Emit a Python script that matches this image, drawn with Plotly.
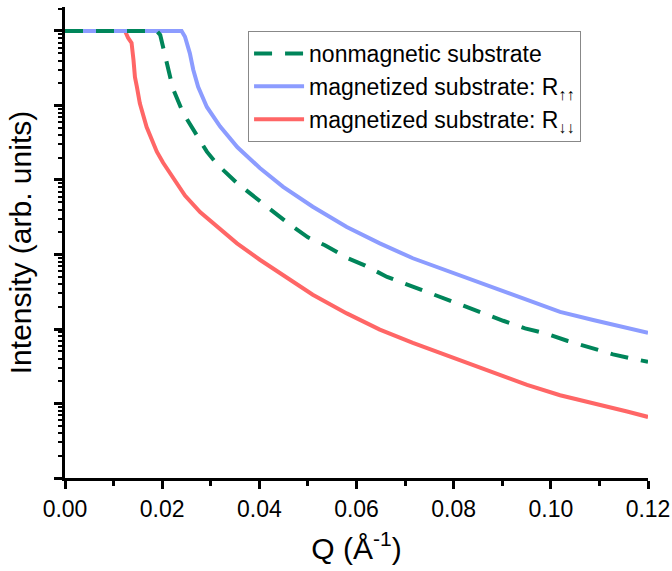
import plotly.graph_objects as go

# Q values (Å^-1) and intensities
q_nonmag = [0.0, 0.0189, 0.0196, 0.0200, 0.0212, 0.0222, 0.0243, 0.0261, 0.0292, 0.0315,
            0.0354, 0.0385, 0.0428, 0.0459, 0.0500, 0.0535, 0.0582, 0.0618, 0.0663, 0.0735,
            0.0778, 0.0817, 0.0865, 0.0902, 0.0947, 0.0990, 0.1035, 0.1077, 0.1128, 0.1169, 0.1200]
r_nonmag = [1.0, 1.0, 0.883, 0.692, 0.302, 0.170, 0.0794, 0.0501, 0.0240, 0.0158,
            9.1e-3, 6.3e-3, 3.72e-3, 2.63e-3, 1.70e-3, 1.33e-3, 8.9e-4, 7.1e-4, 5.0e-4, 3.31e-4,
            2.63e-4, 2.04e-4, 1.55e-4, 1.29e-4, 1.02e-4, 8.7e-5, 6.9e-5, 5.75e-5, 4.57e-5, 3.98e-5, 3.63e-5]

q_up = [0.0, 0.0240, 0.0247, 0.0254, 0.0257, 0.0264, 0.0274, 0.0292, 0.0319, 0.0355,
        0.0401, 0.0449, 0.0510, 0.0580, 0.0648, 0.0716, 0.0813, 0.0881, 0.0951, 0.1019,
        0.1087, 0.1157, 0.1200]
r_up = [1.0, 1.0, 0.838, 0.617, 0.501, 0.302, 0.178, 0.0955, 0.0525, 0.0275,
        0.0145, 8.1e-3, 4.37e-3, 2.34e-3, 1.41e-3, 8.9e-4, 5.25e-4, 3.55e-4, 2.45e-4, 1.70e-4,
        1.32e-4, 1.02e-4, 8.9e-5]

q_down = [0.0, 0.01235, 0.0130, 0.0137, 0.0141, 0.0144, 0.0148, 0.0154, 0.0168, 0.0178, 0.0189,
          0.0202, 0.0216, 0.0247, 0.0278, 0.0313, 0.0354, 0.0401, 0.0449, 0.0510, 0.0580, 0.0648,
          0.0716, 0.0813, 0.0881, 0.0951, 0.1019, 0.1087, 0.1157, 0.1200]
r_down = [1.0, 1.0, 0.805, 0.692, 0.407, 0.240, 0.178, 0.107, 0.0513, 0.0350, 0.0240,
          0.0170, 0.0123, 6.17e-3, 3.72e-3, 2.34e-3, 1.41e-3, 8.5e-4, 5.25e-4, 2.88e-4, 1.62e-4, 9.8e-5,
          6.5e-5, 3.8e-5, 2.57e-5, 1.78e-5, 1.29e-5, 1.02e-5, 7.8e-6, 6.6e-6]

names = ["nonmagnetic substrate",
         "magnetized substrate: R<sub>↑↑</sub>",
         "magnetized substrate: R<sub>↓↓</sub>"]
colors = ["#00855A", "#8C9CFF", "#FF6666"]

FONT = "Arial, Liberation Sans, sans-serif"

fig = go.Figure()
fig.add_trace(go.Scatter(x=q_down, y=r_down, mode="lines", name=names[2], legendrank=3,
                         line=dict(color=colors[2], width=4)))
fig.add_trace(go.Scatter(x=q_up, y=r_up, mode="lines", name=names[1], legendrank=2,
                         line=dict(color=colors[1], width=4)))
fig.add_trace(go.Scatter(x=q_nonmag, y=r_nonmag, mode="lines", name=names[0], legendrank=1,
                         line=dict(color=colors[0], width=4, dash="18px,13px")))

fig.update_layout(
    width=672, height=571,
    margin=dict(l=65, r=24, t=7, b=93),
    paper_bgcolor="white", plot_bgcolor="white",
    font=dict(family=FONT, color="black", size=23),
    legend=dict(x=0.314, y=0.949, xanchor="left", yanchor="top",
                bordercolor="#888888", borderwidth=1, bgcolor="white",
                font=dict(size=23, family=FONT),
                traceorder="normal", itemwidth=50),
    showlegend=True,
)
fig.update_xaxes(
    range=[0, 0.12], dtick=0.02, tickformat=".2f",
    showline=True, linecolor="black", linewidth=3,
    ticks="outside", ticklen=8, tickwidth=3, tickcolor="black",
    minor=dict(ticks="outside", dtick=0.01, ticklen=5, tickwidth=3, tickcolor="black"),
    showgrid=False, zeroline=False, automargin=False,
    tickfont=dict(size=23),
    title=dict(text="Q (Å<sup>-1</sup>)", font=dict(size=30), standoff=18),
)
fig.update_yaxes(
    type="log", range=[-6, 0.322], dtick=1,
    showline=True, linecolor="black", linewidth=3,
    ticks="outside", ticklen=8, tickwidth=3, tickcolor="black",
    minor=dict(ticks="outside", dtick="D1", ticklen=4, tickwidth=2, tickcolor="black"),
    showticklabels=False,
    showgrid=False, zeroline=False, automargin=False,
    title=dict(text="Intensity (arb. units)", font=dict(size=30), standoff=14),
)

fig.write_html("out.html")
